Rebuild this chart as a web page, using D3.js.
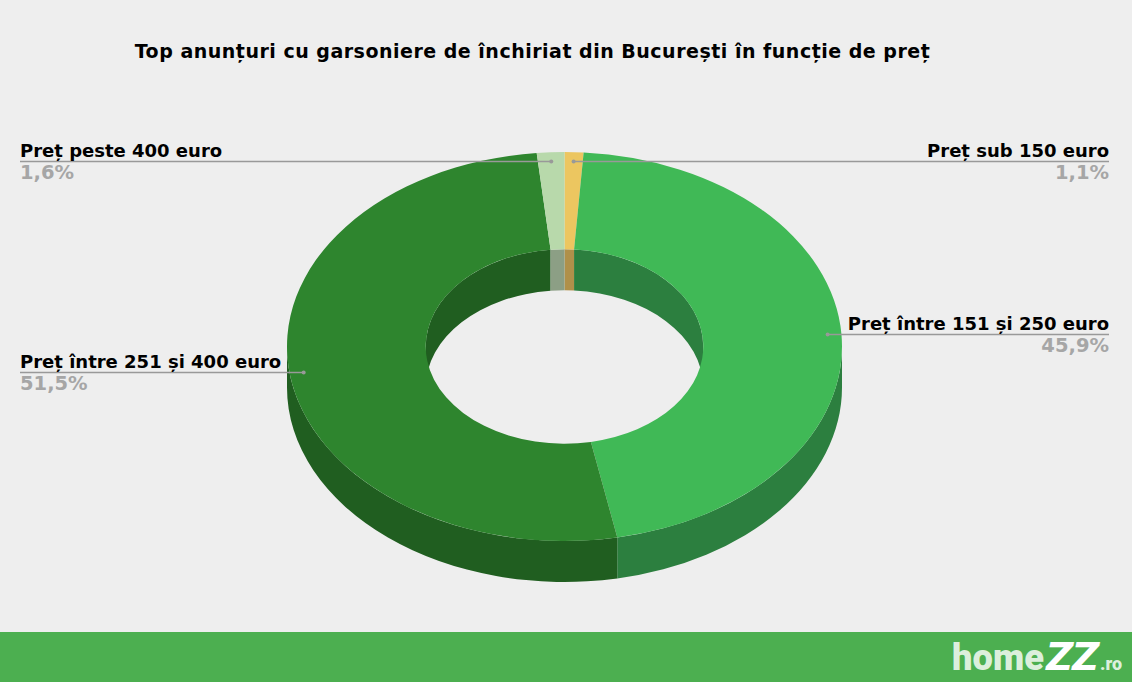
<!DOCTYPE html>
<html>
<head>
<meta charset="utf-8">
<script src="https://cdn.jsdelivr.net/npm/d3@7"></script>
<style>
html, body { margin: 0; padding: 0; background: #eeeeee; overflow: hidden; }
text { font-family: "DejaVu Sans", sans-serif; font-weight: bold; }
</style>
</head>
<body>
<svg id="chart" width="1132" height="682"></svg>
<script>
const categories = ['Preț sub 150 euro', 'Preț între 151 și 250 euro', 'Preț între 251 și 400 euro', 'Preț peste 400 euro'];
const shares = [1.1, 45.9, 51.5, 1.6];
const shareLabels = ['1,1%', '45,9%', '51,5%', '1,6%'];
const topColors = ['#ecc660', '#40b956', '#2e852e', '#b8d9ab'];
const wallColors = ['#b0904a', '#2c7f3f', '#205e20', '#8c9f85'];

const width = 1132;
const height = 682;
const cx = 564.5;
const cy = 346.5;
const rx = 277.5;
const ry = 194.5;
const depth = 41;
const holeRatio = 0.5;
const squash = ry / rx;

const svg = d3.select('#chart');
svg.append('rect').attr('width', width).attr('height', height).attr('fill', '#eeeeee');

svg.append('text')
    .attr('x', 532.5).attr('y', 58)
    .attr('text-anchor', 'middle')
    .attr('font-size', 19)
    .attr('letter-spacing', 0.5)
    .attr('fill', '#000')
    .text('Top anunțuri cu garsoniere de închiriat din București în funcție de preț');

const pie = d3.pie().sort(null).value(d => d);
const slices = pie(shares);
const arc = d3.arc().innerRadius(rx * holeRatio).outerRadius(rx);

// point on the ellipse, angle measured clockwise from the top like d3.pie
const pt = (a, k, dy = 0) => [cx + rx * k * Math.sin(a), cy - ry * k * Math.cos(a) + dy];

function wall(a0, a1, k) {
    const p0 = pt(a0, k), p1 = pt(a1, k), q1 = pt(a1, k, depth), q0 = pt(a0, k, depth);
    const r = `${rx * k} ${ry * k}`;
    return `M${p0}A${r} 0 0 1 ${p1}L${q1}A${r} 0 0 0 ${q0}Z`;
}

// outer wall: only the front half can be seen
slices.forEach((s, i) => {
    const a0 = Math.max(s.startAngle, Math.PI / 2);
    const a1 = Math.min(s.endAngle, Math.PI * 1.5);
    if (a1 <= a0) return;
    svg.append('path').attr('d', wall(a0, a1, 1)).attr('fill', wallColors[i]);
});

// inner wall: only the far half of the hole can be seen
slices.forEach((s, i) => {
    [[s.startAngle, Math.min(s.endAngle, Math.PI / 2)],
     [Math.max(s.startAngle, Math.PI * 1.5), s.endAngle]].forEach(([a0, a1]) => {
        if (a1 <= a0) return;
        svg.append('path').attr('d', wall(a0, a1, holeRatio)).attr('fill', wallColors[i]);
    });
});

const face = svg.append('g').attr('transform', `translate(${cx},${cy}) scale(1,${squash})`);
face.selectAll('path')
    .data(slices)
    .enter().append('path')
    .attr('d', arc)
    .attr('fill', (d, i) => topColors[i]);

// leader lines and labels
slices.forEach((s, i) => {
    const mid = (s.startAngle + s.endAngle) / 2;
    const [dx, dy] = pt(mid, 0.95);
    const right = Math.sin(mid) > 0;
    const edge = right ? 1109 : 20;
    const ly = Math.round(dy) - 0.5;
    svg.append('line')
        .attr('x1', edge).attr('x2', dx).attr('y1', ly).attr('y2', ly)
        .attr('stroke', '#999').attr('stroke-width', 1.5);
    svg.append('circle')
        .attr('cx', dx).attr('cy', ly).attr('r', 2)
        .attr('fill', '#999');
    svg.append('text')
        .attr('x', edge).attr('y', ly - 5)
        .attr('text-anchor', right ? 'end' : 'start')
        .attr('font-size', 18).attr('fill', '#000')
        .text(categories[i]);
    svg.append('text')
        .attr('x', edge).attr('y', ly + 17)
        .attr('text-anchor', right ? 'end' : 'start')
        .attr('font-size', 19.5).attr('fill', '#a6a6a6')
        .text(shareLabels[i]);
});

// footer band with the logo
svg.append('rect').attr('x', 0).attr('y', 632).attr('width', width).attr('height', 50).attr('fill', '#4caf50');
const logoParts = [
    {t: 'home', x: 952, w: 92, size: 37, fill: '#dcefdc', style: 'normal'},
    {t: 'ZZ', x: 1046, w: 52, size: 38, fill: '#fff', style: 'italic'},
    {t: '.ro', x: 1100, w: 22, size: 18, fill: '#dcefdc', style: 'normal'}
];
logoParts.forEach(p => {
    svg.append('text')
        .attr('x', p.x).attr('y', 670)
        .attr('textLength', p.w).attr('lengthAdjust', 'spacingAndGlyphs')
        .attr('font-size', p.size).attr('fill', p.fill)
        .style('font-family', 'Roboto, sans-serif')
        .style('font-weight', 900).style('font-style', p.style)
        .text(p.t);
});
</script>
</body>
</html>
